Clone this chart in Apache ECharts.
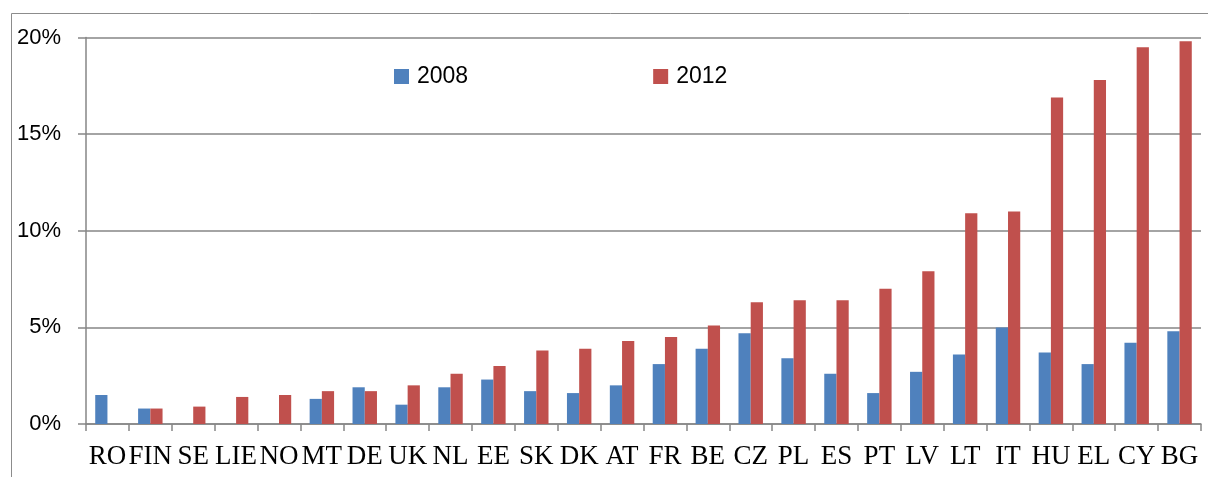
<!DOCTYPE html>
<html>
<head>
<meta charset="utf-8">
<script src="https://cdn.jsdelivr.net/npm/echarts@6/dist/echarts.min.js"></script>
<style>
  html, body { margin: 0; padding: 0; background: #fff; }
  #chart { width: 1208px; height: 477px; }
</style>
</head>
<body>
<div id="chart"></div>
<script>
    var countries = ['RO','FIN','SE','LIE','NO','MT','DE','UK','NL','EE','SK','DK','AT',
                     'FR','BE','CZ','PL','ES','PT','LV','LT','IT','HU','EL','CY','BG'];
    var data2008 = [1.5,0.8,0,0,0,1.3,1.9,1.0,1.9,2.3,1.7,1.6,2.0,
                    3.1,3.9,4.7,3.4,2.6,1.6,2.7,3.6,5.0,3.7,3.1,4.2,4.8];
    var data2012 = [0,0.8,0.9,1.4,1.5,1.7,1.7,2.0,2.6,3.0,3.8,3.9,4.3,
                    4.5,5.1,6.3,6.4,6.4,7.0,7.9,10.9,11.0,16.9,17.8,19.5,19.8];
    var yTicks = [0,5,10,15,20];

    var axisGray = '#868686';
    var myChart = echarts.init(document.getElementById('chart'));

    var option = {
        animation: false,
        backgroundColor: '#fff',
        // outer chart-area border
        graphic: [{
            type: 'rect',
            shape: { x: 11.5, y: 13.5, width: 1220, height: 480 },
            style: { fill: 'none', stroke: '#8c8c8c', lineWidth: 1 },
            silent: true
        }],
        legend: {
            left: 394,
            top: 65,
            padding: 0,
            itemWidth: 15,
            itemHeight: 15,
            itemGap: 185,
            icon: 'rect',
            textStyle: { fontFamily: 'Liberation Sans', fontSize: 23, color: '#000', padding: [0, 0, 0, 3] },
            data: ['2008', '2012']
        },
        grid: { left: 86, right: 7, top: 37.5, bottom: 53, containLabel: false },
        xAxis: {
            type: 'category',
            data: countries,
            axisLine: { lineStyle: { color: axisGray, width: 1.5 } },
            axisTick: { show: true, length: 7, lineStyle: { color: axisGray, width: 1.5 } },
            axisLabel: {
                interval: 0,
                margin: 19,
                fontFamily: 'Liberation Serif',
                fontSize: 27,
                color: '#000'
            }
        },
        yAxis: {
            type: 'value',
            min: yTicks[0],
            max: yTicks[yTicks.length - 1],
            interval: 5,
            axisLine: { show: true, lineStyle: { color: axisGray, width: 1.5 } },
            axisTick: { show: true, length: 8, lineStyle: { color: axisGray, width: 1.5 } },
            splitLine: { lineStyle: { color: axisGray, width: 1.5 } },
            axisLabel: {
                margin: 25,
                fontFamily: 'Liberation Sans',
                fontSize: 22,
                color: '#000',
                formatter: '{value}%'
            }
        },
        series: [{
            name: '2008',
            type: 'bar',
            data: data2008,
            barGap: 0,
            barCategoryGap: '43%',
            itemStyle: { color: '#4F81BD' }
        }, {
            name: '2012',
            type: 'bar',
            data: data2012,
            barGap: 0,
            barCategoryGap: '43%',
            itemStyle: { color: '#C0504D' }
        }]
    };

    myChart.setOption(option);
</script>
</body>
</html>
